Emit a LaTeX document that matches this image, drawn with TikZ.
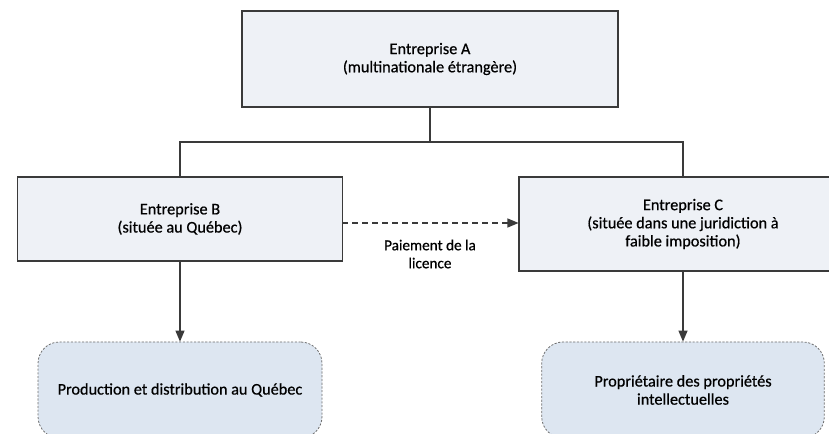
\documentclass[tikz,border=0pt]{standalone}
\usepackage{fontspec}
\setmainfont{Carlito}[FakeBold=0.6]
\usetikzlibrary{arrows}
\usetikzlibrary{shapes}

\definecolor{lineGray}{HTML}{3A3A3A}
\definecolor{boxFill}{HTML}{EEF1F6}
\definecolor{roundFill}{HTML}{DDE6F1}
\definecolor{roundLine}{HTML}{6E6E6E}

\begin{document}
\begin{tikzpicture}[x = 0.75pt, y = -0.75pt, >=triangle 45]
	\tikzstyle{entStyle} = [shape = rectangle, draw = lineGray, line width = 0.8pt, fill = boxFill, align = center, font = \fontsize{12.2}{13.6}\selectfont, inner sep = 2pt]
	\tikzstyle{roleStyle} = [shape = rectangle, rounded corners = 16pt, draw = roundLine, line width = 0.6pt, dash pattern = on 1.6pt off 1.2pt, fill = roundFill, align = center, font = \fontsize{12.2}{13.6}\selectfont, inner sep = 2pt]
	\tikzstyle{linkStyle} = [draw = lineGray, line width = 0.9pt]
	\useasboundingbox (0,0) rectangle (829,434);
	\node[entStyle, minimum width = 282pt, minimum height = 72pt] (entA) at (430,59) {Entreprise A\\(multinationale étrangère)};
	\node[entStyle, minimum width = 244pt, minimum height = 63pt] (entB) at (180,219) {Entreprise B\\(située au Québec)};
	\node[entStyle, minimum width = 246pt, minimum height = 70.5pt] (entC) at (683,224) {Entreprise C\\(située dans une juridiction à\\faible imposition)};
	\node[roleStyle, minimum width = 213pt, minimum height = 72pt] (prodB) at (180,390) {Production et distribution au Québec};
	\node[roleStyle, minimum width = 212pt, minimum height = 72pt] (propC) at (683,390) {Propriétaire des propriétés\\intellectuelles};
	\coordinate (split) at (430,142);
	\coordinate (payB) at (342,223);
	\coordinate (payC) at (entC.west |- payB);
	\draw[linkStyle] (entA.south) -- (split);
	\draw[linkStyle] (entB.north) |- (split) -| (entC.north);
	\draw[linkStyle, ->, dash pattern = on 4.5pt off 3pt] (payB) -- (payC);
	\node[align = center, font = \fontsize{11.4}{13.5}\selectfont] (payLabel) at (430,254) {Paiement de la\\licence};
	\draw[linkStyle, ->] (entB.south) -- (prodB.north);
	\draw[linkStyle, ->] (entC.south) -- (propC.north);
\end{tikzpicture}
\end{document}
